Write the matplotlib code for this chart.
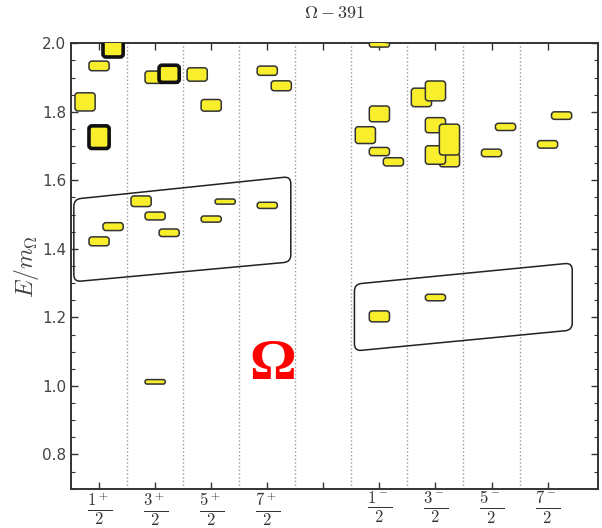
import numpy as np
import matplotlib
matplotlib.use('Agg')
import matplotlib.pyplot as plt
from matplotlib.patches import FancyBboxPatch, PathPatch
from matplotlib.path import Path

plt.rcParams['mathtext.fontset'] = 'cm'

# spin/parity channels (x position = channel index)
labels = [r'$\frac{1^+}{2}$', r'$\frac{3^+}{2}$', r'$\frac{5^+}{2}$', r'$\frac{7^+}{2}$', '',
          r'$\frac{1^-}{2}$', r'$\frac{3^-}{2}$', r'$\frac{5^-}{2}$', r'$\frac{7^-}{2}$']

# levels: channel, horizontal offset inside channel, energy, full error height, thick edge
chan = [0, 0, 0, 0, 0, 0,
        1, 1, 1, 1, 1, 1,
        2, 2, 2, 2,
        3, 3, 3,
        5, 5, 5, 5, 5, 5, 5,
        6, 6, 6, 6, 6, 6, 6,
        7, 7,
        8, 8]
offs = [-0.25, 0, 0.25, 0, 0, 0.25,
        0, 0.25, -0.25, 0, 0.25, 0,
        -0.25, 0, 0, 0.25,
        0, 0.25, 0,
        0, 0.25, 0, -0.25, 0, 0.25, 0,
        -0.25, 0, 0.25, 0, 0, 0.25, 0,
        0, 0.25,
        0, 0.25]
energy = [1.829, 1.934, 1.985, 1.726, 1.422, 1.465,
          1.901, 1.911, 1.539, 1.496, 1.447, 1.012,
          1.909, 1.819, 1.487, 1.538,
          1.920, 1.876, 1.527,
          1.997, 2.012, 1.794, 1.732, 1.684, 1.654, 1.203,
          1.842, 1.861, 1.659, 1.674, 1.761, 1.719, 1.258,
          1.680, 1.756,
          1.705, 1.789]
err = [0.053, 0.028, 0.05, 0.066, 0.026, 0.023,
       0.036, 0.05, 0.031, 0.023, 0.022, 0.013,
       0.039, 0.034, 0.018, 0.015,
       0.027, 0.029, 0.018,
       0.016, 0.02, 0.046, 0.049, 0.024, 0.024, 0.032,
       0.054, 0.058, 0.039, 0.054, 0.044, 0.09, 0.019,
       0.022, 0.021,
       0.022, 0.022]
thick = [0, 0, 1, 1, 0, 0,
         0, 1, 0, 0, 0, 0,
         0, 0, 0, 0,
         0, 0, 0,
         0, 0, 0, 0, 0, 0, 0,
         0, 0, 0, 0, 0, 0, 0,
         0, 0,
         0, 0]

# slanted outlines grouping the lowest states (corners in data units)
band_pos = [(-0.45, 1.304), (3.42, 1.362), (3.42, 1.611), (-0.45, 1.545)]
band_neg = [(4.555, 1.102), (8.44, 1.163), (8.44, 1.359), (4.555, 1.297)]

fig = plt.figure(figsize=(6.02, 5.28), dpi=100)
ax = fig.add_axes([0.118, 0.0744, 0.8754, 0.8436])
ax.set_xlim(-0.5, 8.9)
ax.set_ylim(0.7, 2.0)

for xv in np.arange(0.5, 8, 1.0):
    ax.axvline(xv, color='#999999', ls=':', lw=1, zorder=1)

# aspect so that rounded corners look round on screen
bbox = ax.get_window_extent()
pxx = bbox.width / 9.4
pxy = bbox.height / 1.3
asp = pxx / pxy
w = 0.36
for c, o, e, h, t in zip(chan, offs, energy, err, thick):
    r = min(3.0 / pxx, 0.9 * h / 2 / asp)
    p = FancyBboxPatch((c + o - w / 2, e - h / 2), w, h,
                       boxstyle='round,pad=0,rounding_size=%f' % r,
                       mutation_aspect=asp,
                       fc='#f8ee2c', ec='#111111' if t else '#333333',
                       lw=2.6 if t else 1.1, zorder=3)
    ax.add_patch(p)


def rounded_outline(corners, rad=7.0):
    pts = ax.transData.transform(corners)
    n = len(pts)
    verts = []
    codes = []
    for i in range(n):
        p0 = pts[i - 1]
        p1 = pts[i]
        p2 = pts[(i + 1) % n]
        d1 = (p0 - p1) / np.hypot(*(p0 - p1))
        d2 = (p2 - p1) / np.hypot(*(p2 - p1))
        a = p1 + d1 * rad
        b = p1 + d2 * rad
        verts += [a, p1, b]
        codes += [Path.LINETO, Path.CURVE3, Path.CURVE3]
    codes[0] = Path.MOVETO
    verts.append(verts[0])
    codes.append(Path.CLOSEPOLY)
    verts = ax.transData.inverted().transform(np.array(verts))
    return PathPatch(Path(verts, codes), fc='none', ec='#222222', lw=1.1, zorder=2)


ax.add_patch(rounded_outline(band_pos))
ax.add_patch(rounded_outline(band_neg))

ax.text(3.1, 1.06, u'\u03a9', color='red', fontsize=42, fontweight='bold',
        family='Liberation Serif', ha='center', va='center')

ax.set_xticks(range(9))
ax.set_xticklabels(labels, fontsize=17, color='#333333')
ax.set_yticks(np.arange(0.8, 2.01, 0.2))
ax.set_yticks(np.arange(0.7, 2.0, 0.05), minor=True)
ax.tick_params(axis='both', which='both', direction='in', top=True, right=True, color='#333333')
ax.tick_params(axis='both', which='major', length=5, width=1)
ax.tick_params(axis='y', which='minor', length=3, width=0.8)
ax.tick_params(axis='y', labelsize=11, labelcolor='#444444')
ax.tick_params(axis='x', pad=1)
for s in ax.spines.values():
    s.set_color('#333333')
    s.set_linewidth(1.4)

ax.set_ylabel(r'$E/m_\Omega$', fontsize=17, color='#444444', labelpad=1)
ax.set_title(r'$\Omega-391$', fontsize=13, color='#333333', pad=18)

fig.savefig('out.png', dpi=100)
